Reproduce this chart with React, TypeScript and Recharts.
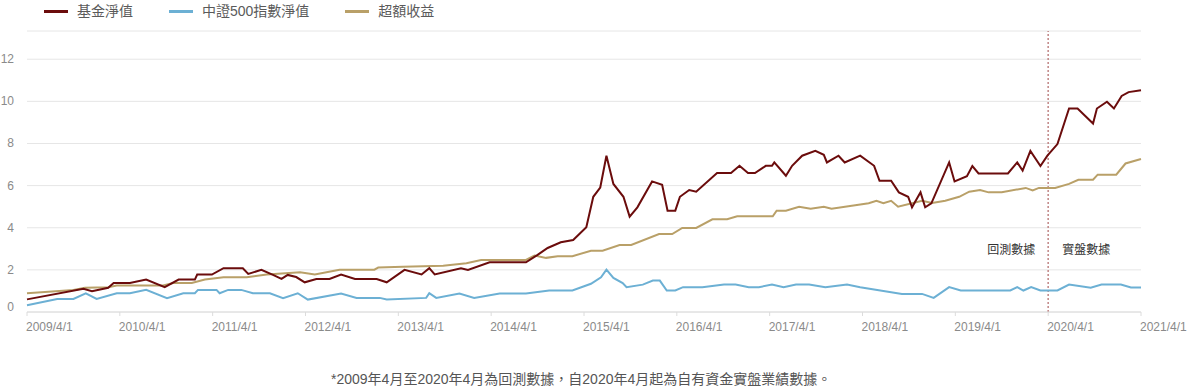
import React from 'react';
import { LineChart, Line, XAxis, YAxis, CartesianGrid, ReferenceLine } from 'recharts';

// x = months since 2009/4/1
const fundMonths = [0, 7.3, 8.4, 10.5, 11.2, 13.3, 15.4, 17.8, 19.6, 21.7, 22, 23.9, 25.4, 27.9, 28.6, 30.3, 31.8, 32.9, 33.7, 34.8, 35.9, 37.4, 39.1, 40.6, 42.4, 45.2, 46.5, 48.8, 51, 52, 52.7, 56.1, 57, 59.8, 64.5, 66, 67.3, 69, 70.6, 72.3, 73.2, 74.1, 74.9, 75.8, 77.1, 77.9, 78.9, 80.8, 82.1, 82.8, 83.8, 84.4, 85.6, 86.5, 89.2, 91, 92.1, 93.2, 94.1, 95.5, 96.3, 96.6, 98.1, 98.9, 100.2, 101.9, 103, 103.4, 104.9, 105.7, 107.7, 109.5, 110.2, 111.7, 112.7, 113.9, 114.4, 115.5, 116.1, 116.9, 119.2, 119.9, 121.5, 122.2, 123, 126.8, 128, 128.7, 129.7, 131, 131.9, 133.2, 134.7, 135.8, 137.8, 138.3, 139.6, 140.5, 141.5, 142.4, 144];
const fundValues = [0.6, 1.1, 0.99, 1.15, 1.38, 1.38, 1.54, 1.18, 1.54, 1.54, 1.78, 1.78, 2.08, 2.08, 1.81, 2.0, 1.76, 1.57, 1.76, 1.66, 1.41, 1.57, 1.57, 1.78, 1.57, 1.57, 1.41, 2.0, 1.78, 2.08, 1.78, 2.08, 2.0, 2.36, 2.36, 2.71, 3.04, 3.31, 3.42, 4.02, 5.47, 5.91, 7.42, 6.08, 5.47, 4.53, 4.97, 6.2, 6.04, 4.81, 4.81, 5.47, 5.79, 5.71, 6.6, 6.6, 6.94, 6.6, 6.6, 6.94, 6.94, 7.1, 6.47, 6.94, 7.42, 7.65, 7.46, 7.1, 7.42, 7.1, 7.42, 6.94, 6.23, 6.23, 5.68, 5.47, 4.97, 5.68, 4.97, 5.16, 7.1, 6.2, 6.45, 6.93, 6.58, 6.58, 7.1, 6.71, 7.65, 6.93, 7.42, 7.97, 9.66, 9.66, 8.95, 9.66, 9.98, 9.66, 10.26, 10.44, 10.53];

const csiMonths = [0, 3.9, 6, 7.6, 9, 11.6, 13.3, 15.4, 18.1, 20.2, 21.7, 22.1, 24.5, 24.9, 26, 27.7, 29.2, 31.4, 33.1, 35, 36.3, 40.6, 42.6, 45.6, 46.5, 51.6, 52, 52.9, 55.9, 57.8, 61.1, 64.5, 67.5, 70.5, 72.9, 74.2, 74.9, 75.8, 77, 77.5, 79.6, 80.9, 81.8, 82.7, 83.8, 84.8, 87.3, 90.1, 91.6, 93.3, 94.6, 96.3, 97.8, 99.4, 101.1, 103.2, 106, 107.7, 113.1, 115.7, 117.2, 119.2, 120.7, 127.1, 128, 128.8, 129.8, 131, 133.2, 134.7, 137.5, 138.9, 141.4, 142.7, 144];
const csiValues = [0.32, 0.62, 0.62, 0.89, 0.62, 0.89, 0.89, 1.05, 0.66, 0.89, 0.89, 1.05, 1.05, 0.89, 1.05, 1.05, 0.89, 0.89, 0.66, 0.89, 0.59, 0.88, 0.67, 0.67, 0.59, 0.67, 0.89, 0.67, 0.88, 0.67, 0.88, 0.88, 1.02, 1.02, 1.34, 1.65, 2.01, 1.62, 1.37, 1.18, 1.3, 1.49, 1.49, 1.02, 1.02, 1.18, 1.18, 1.3, 1.3, 1.18, 1.18, 1.3, 1.18, 1.3, 1.3, 1.18, 1.3, 1.18, 0.86, 0.86, 0.67, 1.18, 1.02, 1.02, 1.18, 1.02, 1.18, 1.02, 1.02, 1.3, 1.15, 1.3, 1.3, 1.16, 1.16];

const excessMonths = [0, 6, 7.5, 10.5, 11.6, 17.6, 18.9, 21.3, 23, 25.4, 28.4, 31, 35.3, 37.2, 40.4, 44.9, 45.4, 48.6, 53.8, 56.8, 58.7, 64.5, 65.6, 67.1, 68.6, 70.5, 72.9, 74.4, 76.6, 78.1, 81.7, 83.4, 84.7, 86.5, 88.6, 90.5, 91.8, 96.4, 96.9, 98.1, 99.8, 101.3, 103, 104, 108.8, 109.8, 110.7, 111.7, 112.6, 115.7, 117, 118.7, 120.5, 121.8, 123.2, 124.3, 126, 129.1, 130, 130.8, 132.9, 134.7, 135.9, 137.8, 138.4, 140.8, 142, 144];
const excessValues = [0.89, 1.05, 1.15, 1.18, 1.26, 1.26, 1.38, 1.38, 1.54, 1.65, 1.65, 1.78, 1.89, 1.78, 2.01, 2.01, 2.11, 2.15, 2.2, 2.31, 2.47, 2.47, 2.68, 2.57, 2.65, 2.65, 2.91, 2.91, 3.18, 3.18, 3.7, 3.7, 3.99, 3.99, 4.4, 4.4, 4.54, 4.54, 4.81, 4.81, 5.0, 4.9, 5.0, 4.9, 5.16, 5.28, 5.16, 5.28, 5.0, 5.28, 5.17, 5.28, 5.47, 5.71, 5.79, 5.68, 5.68, 5.89, 5.77, 5.89, 5.89, 6.08, 6.28, 6.28, 6.52, 6.52, 7.05, 7.26];

const xTicks = [0, 12, 24, 36, 48, 60, 72, 84, 96, 108, 120, 132, 144];
const xTickLabels = ['2009/4/1', '2010/4/1', '2011/4/1', '2012/4/1', '2013/4/1', '2014/4/1', '2015/4/1', '2016/4/1', '2017/4/1', '2018/4/1', '2019/4/1', '2020/4/1', '2021/4/1'];
const yTicks = [0, 2, 4, 6, 8, 10, 12];
const liveStart = 132; // 2020/4/1

const seriesNames = ['基金淨值', '中證500指數淨值', '超額收益'];
const COLORS = ['#6b0c0c', '#6cb0d4', '#b9a068'];

const Y_MAX = 13.34;
const FONT = '"Liberation Sans", "Noto Sans CJK TC", sans-serif';

const rows = (ms: number[], vs: number[]) => ms.map((m, i) => ({ m, v: vs[i] }));
const fundData = rows(fundMonths, fundValues);
const csiData = rows(csiMonths, csiValues);
const excessData = rows(excessMonths, excessValues);

const XTick = ({ x, y, payload }: any) => (
  <text x={x - 1} y={y + 13} fill="#8a8a8a" fontSize={12} fontFamily={FONT} textAnchor="start">
    {xTickLabels[xTicks.indexOf(payload.value)]}
  </text>
);

const YTick = ({ y, payload }: any) => (
  <text x={14} y={y + 4 - (payload.value === 0 ? 5 : 0)} fill="#8a8a8a" fontSize={12} fontFamily={FONT} textAnchor="end">
    {payload.value}
  </text>
);

const PhaseLabels = ({ viewBox }: any) => {
  const { x, y, height } = viewBox;
  const ty = y + height - (height * 3) / Y_MAX + 5;
  return (
    <g fontSize={12} fill="#333" fontFamily={FONT}>
      <text x={x - 37} y={ty} textAnchor="middle">回測數據</text>
      <text x={x + 38} y={ty} textAnchor="middle">實盤數據</text>
    </g>
  );
};

const ChartLegend = () => (
  <div style={{ position: 'absolute', left: 44, top: 2, display: 'flex', fontFamily: FONT, fontSize: 14, color: '#5a5a5a', lineHeight: '18px' }}>
    {seriesNames.map((name, i) => (
      <div key={name} style={{ display: 'flex', alignItems: 'center', marginRight: 36 }}>
        <span style={{ display: 'inline-block', width: 24, height: 3, background: COLORS[i], marginRight: 9 }} />
        <span>{name}</span>
      </div>
    ))}
  </div>
);

export default function App() {
  return (
    <div style={{ position: 'absolute', left: 0, top: 0, width: 1189, height: 386, background: '#fff' }}>
      <ChartLegend />
      <LineChart width={1189} height={342} margin={{ top: 31, right: 48, left: 0, bottom: 0 }}>
        <CartesianGrid vertical={false} stroke="#e6e6e6" />
        <XAxis
          dataKey="m"
          type="number"
          domain={[0, 144]}
          ticks={xTicks}
          interval={0}
          height={30}
          tick={<XTick />}
          tickSize={4}
          axisLine={{ stroke: '#dcdcdc' }}
          tickLine={{ stroke: '#dcdcdc' }}
        />
        <YAxis
          type="number"
          domain={[0, Y_MAX]}
          ticks={yTicks}
          width={27}
          axisLine={false}
          tickLine={false}
          tick={<YTick />}
          allowDataOverflow
        />
        <ReferenceLine x={liveStart} stroke="#c08585" strokeWidth={1.5} strokeDasharray="2 2" label={<PhaseLabels />} />
        <Line data={excessData} dataKey="v" name={seriesNames[2]} stroke={COLORS[2]} strokeWidth={2} dot={false} isAnimationActive={false} />
        <Line data={csiData} dataKey="v" name={seriesNames[1]} stroke={COLORS[1]} strokeWidth={2} dot={false} isAnimationActive={false} />
        <Line data={fundData} dataKey="v" name={seriesNames[0]} stroke={COLORS[0]} strokeWidth={2} dot={false} isAnimationActive={false} />
      </LineChart>
      <div style={{ position: 'absolute', left: 331, top: 368, fontFamily: FONT, fontSize: 14, color: '#555', whiteSpace: 'nowrap' }}>
        *2009年4月至2020年4月為回測數據，自2020年4月起為自有資金實盤業績數據。
      </div>
    </div>
  );
}
